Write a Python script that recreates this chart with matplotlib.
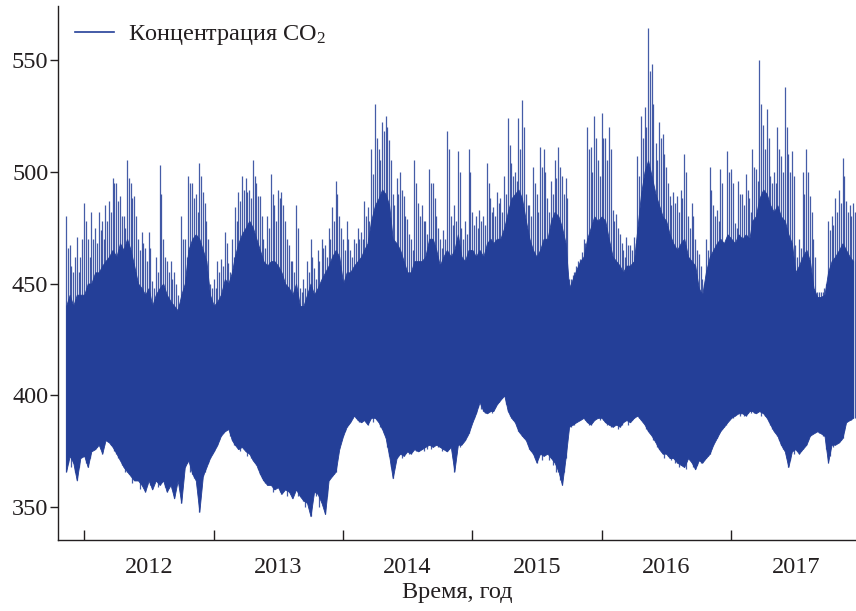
import matplotlib
matplotlib.use('Agg')
import matplotlib.pyplot as plt
import matplotlib.dates as mdates
from matplotlib.lines import Line2D
import pandas as pd

# CO2 record in 10-day steps (days 1, 11, 21 of each month)
# from 2011-11-11 to 2017-12-11: low = bottom of the band, core = top of the solid band,
# peak = highest spike in that 10-day step
months = pd.period_range('2011-11', '2017-12', freq='M')

low = [
    366, 373,  370, 362, 372,                       # 2011 Nov-Dec
    373, 368, 375,  376, 378, 374,  380, 379, 377,  374, 371, 368,
    366, 364, 362,  362, 360, 357,  362, 358, 362,  360, 362, 357,
    360, 354, 362,  352, 368, 371,  365, 362, 348,  364, 368, 372,   # 2012
    375, 378, 382,  384, 385, 380,  378, 376, 377,  375, 374, 371,
    369, 365, 362,  360, 360, 358,  359, 356, 358,  357, 354, 358,
    355, 353, 352,  346, 357, 356,  352, 347, 362,  364, 366, 376,   # 2013
    382, 386, 388,  391, 389, 388,  389, 387, 390,  390, 388, 385,
    381, 373, 363,  372, 374, 373,  375, 374, 376,  375, 376, 377,
    378, 377, 378,  377, 376, 375,  377, 366, 378,  378, 380, 383,   # 2014
    388, 392, 397,  393, 392, 393,  393, 396, 398,  400, 393, 390,
    388, 384, 382,  380, 376, 374,  370, 374, 373,  374, 372, 370,
    366, 360, 372,  386, 387, 388,  389, 390, 388,  387, 389, 390,   # 2015
    390, 388, 387,  386, 387, 386,  388, 389, 388,  390, 391, 389,
    387, 384, 382,  379, 376, 374,  374, 372, 372,  370, 369, 368,
    372, 370, 367,  371, 370, 372,  374, 378, 381,  384, 386, 388,   # 2016
    390, 391, 392,  392, 391, 393,  393, 392, 393,  392, 390, 387,
    384, 382, 378,  375, 368, 375,  376, 374, 376,  378, 382, 383,
    384, 383, 382,  370, 378, 378,  379, 381, 388,  389, 390,        # 2017
]

core = [
    440, 445,  440, 445, 445,
    445, 450, 450,  455, 455, 458,  460, 462, 465,  462, 468, 465,
    470, 465, 458,  450, 448, 445,  448, 440, 445,  448, 450, 445,
    442, 440, 438,  445, 450, 465,  470, 472, 470,  465, 460, 445,
    440, 442, 445,  452, 450, 455,  462, 468, 472,  475, 478, 475,
    470, 465, 460,  458, 460, 460,  458, 455, 450,  448, 445, 450,
    440, 440, 445,  450, 445, 448,  452, 455, 458,  462, 465, 462,
    450, 455, 455,  458, 460, 462,  465, 468, 478,  485, 488, 492,
    490, 485, 470,  468, 465, 460,  455, 455, 460,  460, 460, 462,
    470, 470, 465,  458, 462, 465,  462, 465, 472,  462, 460, 465,
    465, 462, 465,  462, 468, 470,  468, 470, 470,  475, 482, 488,
    490, 492, 488,  478, 470, 465,  462, 465, 470,  470, 478, 482,
    480, 475, 468,  448, 452, 456,  460, 462, 470,  475, 480, 478,
    480, 478, 470,  462, 460, 458,  455, 458, 458,  460, 475, 490,
    500, 505, 498,  490, 485, 480,  478, 472, 468,  465, 468, 470,
    462, 460, 458,  448, 445, 455,  462, 465, 468,  470, 468, 472,
    470, 468, 472,  470, 472, 470,  478, 480, 488,  492, 490, 485,
    482, 485, 480,  478, 472, 468,  455, 458, 462,  465, 460, 448,
    444, 444, 445,  455, 460, 462,  465, 468, 465,  462, 460,
]

peak = [
    480, 467,  455, 471, 462,
    486, 470, 482,  475, 482, 478,  485, 487, 497,  495, 489, 480,
    505, 495, 489,  470, 473, 466,  473, 451, 462,  503, 470, 460,
    460, 455, 445,  480, 470, 498,  495, 490, 504,  491, 478, 450,
    452, 460, 461,  473, 459, 470,  484, 491, 498,  497, 492, 505,
    495, 489, 470,  480, 499, 485,  492, 491, 478,  467, 460, 485,
    448, 452, 460,  470, 457, 465,  470, 467, 475,  484, 496, 480,
    470, 478, 465,  470, 475, 473,  487, 484, 510,  530, 510, 522,
    525, 514, 490,  497, 500, 489,  479, 470, 505,  486, 485, 478,
    501, 495, 480,  470, 474, 518,  480, 485, 509,  475, 478, 510,
    482, 480, 483,  480, 504, 488,  484, 491, 488,  498, 524, 504,
    500, 524, 532,  490, 485, 502,  490, 511, 510,  488, 496, 505,
    511, 498, 497,  452, 454, 458,  461, 470, 520,  511, 525, 505,
    526, 515, 520,  483, 481, 472,  465, 471, 467,  471, 507, 525,
    529, 564, 548,  513, 522, 517,  502, 489, 491,  489, 492, 508,
    480, 486, 470,  463, 452, 470,  502, 485, 483,  501, 460, 509,
    501, 477, 496,  490, 499, 488,  510, 501, 550,  521, 528, 498,
    500, 520, 507,  538, 508, 509,  467, 470, 500,  510, 489, 470,
    446, 446, 448,  478, 480, 488,  492, 506, 487,  485, 486,
]

# second spike and dip inside each 10-day step (5 days after the step start)
peak_mid = [
    466, 458,  462, 455, 470,
    478, 462, 470,  468, 474, 470,  478, 482, 495,  487, 480, 475,
    497, 488, 480,  465, 468, 460,  466, 448, 455,  490, 462, 455,
    452, 450, 441,  470, 462, 495,  488, 482, 498,  486, 470, 448,
    448, 455, 458,  468, 455, 462,  478, 487, 492,  491, 488, 498,
    489, 480, 466,  475, 490, 478,  488, 485, 470,  460, 455, 475,
    446, 448, 455,  462, 452, 460,  466, 462, 470,  478, 490, 475,
    465, 470, 462,  468, 470, 470,  480, 478, 499,  515, 505, 518,
    520, 505, 485,  490, 492, 480,  472, 465, 495,  480, 478, 472,
    495, 488, 475,  466, 470, 510,  476, 478, 500,  470, 472, 500,
    476, 475, 478,  476, 495, 482,  480, 486, 482,  490, 512, 498,
    496, 510, 520,  485, 480, 495,  482, 502, 500,  482, 490, 497,
    502, 490, 488,  452, 455, 460,  464, 468, 510,  500, 515, 498,
    515, 505, 510,  478, 475, 468,  462, 467, 465,  468, 498, 515,
    520, 545, 530,  505, 515, 508,  495, 485, 486,  482, 488, 500,
    475, 480, 465,  458, 450, 465,  492, 480, 478,  495, 470, 500,
    495, 475, 490,  485, 492, 482,  502, 496, 530,  510, 515, 495,
    495, 510, 500,  520, 500, 498,  462, 466, 490,  500, 482, 462,
    446, 446, 450,  474, 476, 482,  486, 498, 482,  480, 482,
]

low_mid = [
    370, 368,  366, 368, 374,
    370, 372, 376,  377, 376, 378,  381, 378, 375,  372, 369, 366,
    365, 361, 364,  358, 362, 360,  360, 361, 359,  363, 359, 360,
    358, 360, 364,  366, 370, 366,  363, 358, 360,  366, 370, 374,
    377, 380, 383,  386, 382, 378,  377, 375, 376,  373, 372, 370,
    367, 363, 361,  361, 357, 360,  357, 358, 355,  356, 357, 355,
    354, 350, 354,  354, 355, 350,  356, 355, 364,  365, 372, 380,
    384, 387, 390,  390, 388, 390,  388, 389, 388,  389, 386, 383,
    377, 368, 368,  373, 372, 375,  374, 376, 375,  377, 375, 376,
    376, 379, 377,  375, 377, 376,  372, 374, 377,  379, 382, 386,
    390, 395, 394,  392, 394, 392,  395, 397, 399,  396, 391, 389,
    386, 383, 381,  378, 375, 372,  372, 371, 374,  371, 369, 366,
    362, 366, 383,  386, 387, 389,  390, 389, 387,  388, 390, 389,
    389, 387, 386,  387, 385, 387,  389, 387, 389,  391, 390, 388,
    385, 383, 380,  377, 375, 372,  373, 371, 370,  368, 370, 367,
    371, 368, 369,  370, 371, 373,  376, 380, 383,  385, 387, 389,
    390, 392, 391,  391, 392, 392,  392, 393, 391,  391, 388, 385,
    383, 380, 376,  372, 371, 374,  375, 375, 377,  380, 383, 384,
    383, 382, 376,  373, 377, 379,  380, 384, 389,  389, 390,
]

year_labels = ['2012', '2013', '2014', '2015', '2016', '2017']

# 10-day time stamps
dates = []
for m in months:
    for day in (1, 11, 21):
        dates.append(pd.Timestamp(year=m.year, month=m.month, day=day))
dates = [d for d in dates if pd.Timestamp('2011-11-11') <= d <= pd.Timestamp('2017-12-11')]
dates = pd.to_datetime(dates)
dates_mid = dates + pd.Timedelta(days=5)
print(len(dates), len(low), len(core), len(peak), len(peak_mid), len(low_mid))

plt.rcParams['font.family'] = ['Liberation Serif', 'DejaVu Serif']
plt.rcParams['mathtext.fontset'] = 'custom'
plt.rcParams['mathtext.rm'] = 'Liberation Serif'
plt.rcParams['mathtext.it'] = 'Liberation Serif:italic'

blue = '#243f98'
ink = '#231f20'

fig = plt.figure(figsize=(8.56, 6.11), dpi=100)
ax = fig.add_axes([58 / 856, 1 - 540 / 611, 1 - 58 / 856, (540 - 6) / 611])

ax.fill_between(dates, low, core, color=blue, lw=0.6, edgecolor=blue)
ax.vlines(dates, low, peak, color=blue, lw=0.9, alpha=0.85)
ax.vlines(dates_mid, low_mid, peak_mid, color=blue, lw=0.9, alpha=0.85)

ax.set_xlim(pd.Timestamp('2011-10-19'), pd.Timestamp('2017-12-19'))
ax.set_ylim(335.4, 574)
ax.set_yticks([350, 400, 450, 500, 550])

# year boundaries get the tick marks, labels sit mid-year
ax.xaxis.set_major_locator(mdates.YearLocator())
ax.xaxis.set_major_formatter(plt.NullFormatter())
ax.set_xticks([pd.Timestamp(f'{y}-07-02') for y in year_labels], minor=True)
ax.set_xticklabels(year_labels, minor=True)
ax.tick_params(axis='x', which='major', direction='in', length=7, width=1, color=ink)
ax.tick_params(axis='x', which='minor', length=0, pad=12, labelsize=17.5, labelcolor=ink)
ax.tick_params(axis='y', direction='out', length=6, width=1, color=ink, pad=1,
               labelsize=17.5, labelcolor=ink)

for side in ('top', 'right'):
    ax.spines[side].set_visible(False)
for side in ('left', 'bottom'):
    ax.spines[side].set_color(ink)
    ax.spines[side].set_linewidth(1.0)

ax.set_xlabel('Время, год', fontsize=17.5, color=ink, labelpad=3)

handle = Line2D([], [], color=blue, lw=1.2)
ax.legend([handle], ['Концентрация CO$_2$'], loc='upper left', frameon=False,
          fontsize=17.5, handlelength=1.6, handletextpad=0.6,
          bbox_to_anchor=(0.0, 1.0), borderaxespad=0.3, labelcolor=ink)

fig.savefig('out.png', dpi=100)
plt.close(fig)
